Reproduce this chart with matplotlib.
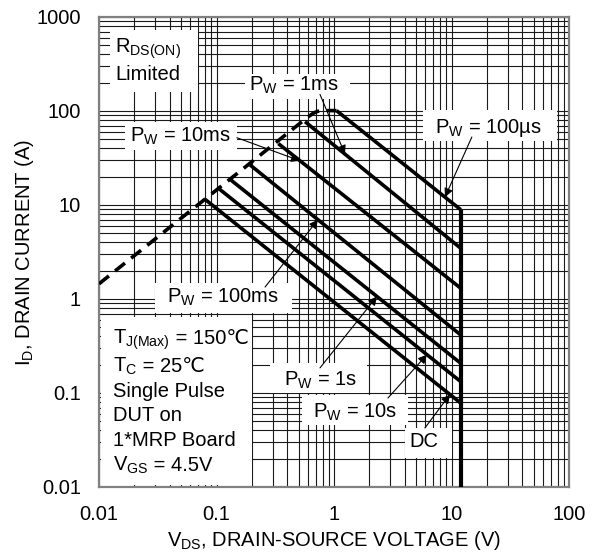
import numpy as np
import matplotlib
matplotlib.use("Agg")
import matplotlib.pyplot as plt
from matplotlib.ticker import FixedLocator, FixedFormatter, LogLocator, NullFormatter
from matplotlib.patches import Rectangle

plt.rcParams['font.family'] = ['Liberation Sans', 'DejaVu Sans']
plt.rcParams['mathtext.fontset'] = 'custom'
plt.rcParams['mathtext.rm'] = 'Liberation Sans'
plt.rcParams['mathtext.it'] = 'Liberation Sans:italic'
plt.rcParams['mathtext.bf'] = 'Liberation Sans:bold'

# ---- data ----
x_ticks = [0.01, 0.1, 1, 10, 100]
x_ticklabels = ["0.01", "0.1", "1", "10", "100"]
y_ticks = [0.01, 0.1, 1, 10, 100, 1000]
y_ticklabels = ["0.01", "0.1", "1", "10", "100", "1000"]

# R_DS(ON) limit (dashed)
rds_v = [0.01, 0.59, 0.66, 0.72, 0.80, 1.05]
rds_i = [1.45, 85, 94, 99, 101, 101]

# pulse-width lines: start (on RDS limit) -> end (at BVdss)
pw_names = ["100us", "1ms", "10ms", "100ms", "1s", "10s", "DC"]
pw_v_start = [1.05, 0.567, 0.336, 0.193, 0.130, 0.1035, 0.0798]
pw_i_start = [101, 77, 45, 26.7, 18.8, 15.1, 11.5]
pw_v_end = [12, 12, 12, 12, 12, 12, 12]
pw_i_end = [8.9, 3.46, 1.30, 0.414, 0.207, 0.132, 0.078]

# vertical BVdss limit
bv_v = [12, 12]
bv_i = [0.01, 8.9]

fig = plt.figure(figsize=(6.03, 5.55), dpi=100)
ax = fig.add_axes([99/603, 1-487/555, 470/603, 470/555])
ax.set_xscale('log')
ax.set_yscale('log')
ax.set_xlim(0.01, 100)
ax.set_ylim(0.01, 1000)

ax.xaxis.set_major_locator(FixedLocator(x_ticks))
ax.xaxis.set_major_formatter(FixedFormatter(x_ticklabels))
ax.yaxis.set_major_locator(FixedLocator(y_ticks))
ax.yaxis.set_major_formatter(FixedFormatter(y_ticklabels))
ax.xaxis.set_minor_locator(LogLocator(base=10, subs=np.arange(2, 10)))
ax.yaxis.set_minor_locator(LogLocator(base=10, subs=np.arange(2, 10)))
ax.xaxis.set_minor_formatter(NullFormatter())
ax.yaxis.set_minor_formatter(NullFormatter())
ax.tick_params(which='both', length=0, labelsize=14.5, pad=13)
ax.grid(True, which='both', color='#1a1a1a', lw=0.8, zorder=0)
ax.set_axisbelow(True)
for s in ax.spines.values():
    s.set_color('#808080')
    s.set_linewidth(1.6)

LW = 2.6
ax.plot(rds_v, rds_i, color='black', lw=LW, ls=(0, (3.5, 2.2)), zorder=3)
for v0, i0, v1, i1 in zip(pw_v_start, pw_i_start, pw_v_end, pw_i_end):
    ax.plot([v0, v1], [i0, i1], color='black', lw=LW, zorder=3, solid_capstyle='butt')
ax.plot(bv_v, bv_i, color='black', lw=3.0, zorder=3, solid_capstyle='butt')

def on_line(name, v):
    k = pw_names.index(name)
    lv = np.log10([pw_v_start[k], pw_v_end[k]])
    li = np.log10([pw_i_start[k], pw_i_end[k]])
    return v, 10 ** np.interp(np.log10(v), lv, li)

FS = 14.5
def box_px(x0, y0, x1, y1):
    ax.add_patch(Rectangle(((x0-99)/470, (487-y1)/470), (x1-x0)/470, (y1-y0)/470,
                           transform=ax.transAxes, facecolor='white', edgecolor='none', zorder=2))

# white label boxes (pixel extents)
box_px(110, 30, 198, 92)
box_px(245, 74, 350, 99)
box_px(125, 122, 237, 150)
box_px(423, 110, 557, 141)
box_px(155, 283, 292, 313)
box_px(101, 317, 252, 485)
box_px(270, 363, 367, 393)
box_px(302, 395, 408, 425)
box_px(405, 428, 452, 458)

def label(x, y, s, ha='center', va='center'):
    return ax.text(x, y, s, fontsize=FS, ha=ha, va=va, zorder=5)

def py2i(py):
    return 10 ** (3 - (py - 17) / 94)

label(0.0137, py2i(49), r"$\mathregular{R_{DS(ON)}}$", ha='left')
label(0.0137, py2i(74), "Limited", ha='left')
label(0.457, 186, r"$\mathregular{P_W}$ = 1ms")
label(0.0489, 54, r"$\mathregular{P_W}$ = 10ms")
label(20.5, 66, r"$\mathregular{P_W}$ = 100µs")
label(0.1135, 1.03, r"$\mathregular{P_W}$ = 100ms")
label(0.76, 0.135, r"$\mathregular{P_W}$ = 1s")
label(1.51, 0.063, r"$\mathregular{P_W}$ = 10s")
label(5.84, 0.0305, "DC")

# condition block: (math part, plain part) per line, baseline pixel rows
cond_math = [r"$\mathregular{T_{J(Max)}}$", r"$\mathregular{T_C}$", "", "", "", r"$\mathregular{V_{GS}}$"]
cond_text = [" = 150℃", " = 25℃", "Single Pulse", "DUT on", "1*MRP Board", " = 4.5V"]
cond_base = [344, 372, 397, 421, 446, 471]
cond_x = 0.01316
fig.canvas.draw()
renderer = fig.canvas.get_renderer()
for m, t, pb in zip(cond_math, cond_text, cond_base):
    yb = py2i(pb)
    x2 = cond_x
    if m:
        t1 = label(cond_x, yb, m, ha='left', va='baseline')
        bb = t1.get_window_extent(renderer=renderer)
        x2 = ax.transData.inverted().transform((bb.x1, bb.y0))[0]
    label(x2, yb, t, ha='left', va='baseline')

arrow = dict(arrowstyle='-|>', color='black', lw=0.8, mutation_scale=13, shrinkA=0, shrinkB=0)
def arr(name, v, start):
    ax.annotate("", xy=on_line(name, v), xytext=start, arrowprops=arrow, zorder=4)

arr("1ms", 1.24, (0.76, 150))
arr("10ms", 0.514, (0.149, 52))
arr("100us", 8.8, (14.9, 52.9))
arr("100ms", 0.73, (0.259, 1.34))
arr("1s", 2.32, (0.76, 0.185))
arr("10s", 6.18, (2.88, 0.0885))
arr("DC", 9.7, (5.94, 0.0425))

fig.text(334/603, 1-540/555, r"$\mathregular{V_{DS}}$, DRAIN-SOURCE VOLTAGE (V)", fontsize=FS,
         ha='center', va='center')
fig.text(25/603, 1-252/555, r"$\mathregular{I_D}$, DRAIN CURRENT (A)", fontsize=FS,
         ha='center', va='center', rotation=90)

fig.savefig("out.png", dpi=100)
